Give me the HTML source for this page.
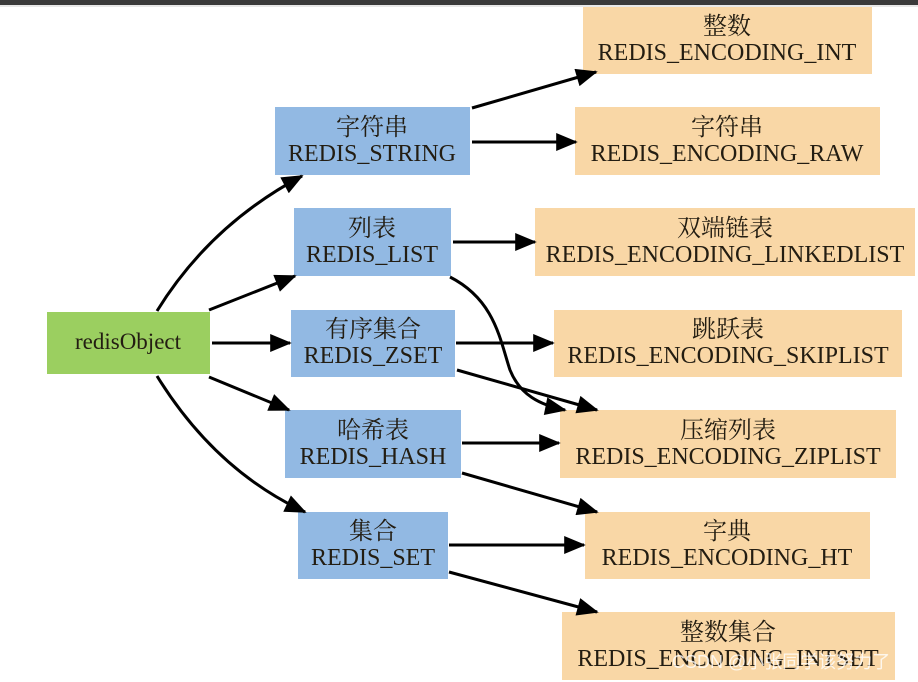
<!DOCTYPE html>
<html><head><meta charset="utf-8"><style>
html,body{margin:0;padding:0;background:#fff;}
svg{display:block}
text{font-family:"Liberation Serif","Noto Serif CJK SC","Noto Sans CJK SC",serif;fill:#231d12;}
</style></head><body>
<svg width="918" height="682" viewBox="0 0 918 682" xmlns="http://www.w3.org/2000/svg">
<defs>
<marker id="ar" viewBox="0 0 12 10" refX="11" refY="5" markerWidth="22" markerHeight="18" orient="auto" markerUnits="userSpaceOnUse"><path d="M0,0 L12,5 L0,10 z" fill="#000"/></marker>
</defs>
<rect x="0" y="0" width="918" height="5" fill="#3a3a3a"/>
<rect x="0" y="5" width="918" height="2" fill="#e8e8e8"/>
<g fill="#f9d7a6">
<rect x="583" y="7" width="289" height="67"/>
<rect x="575" y="107" width="305" height="68"/>
<rect x="535" y="208" width="380" height="68"/>
<rect x="554" y="310" width="348" height="67"/>
<rect x="560" y="410" width="336" height="68"/>
<rect x="585" y="512" width="285" height="67"/>
<rect x="562" y="612" width="333" height="68"/>
</g>
<g fill="#92b9e3">
<rect x="275" y="107" width="195" height="68"/>
<rect x="294" y="208" width="157" height="68"/>
<rect x="291" y="310" width="164" height="67"/>
<rect x="285" y="410" width="176" height="68"/>
<rect x="298" y="512" width="150" height="67"/>
</g>
<rect x="47" y="312" width="163" height="62" fill="#9bcf60"/>
<g stroke="#000" stroke-width="3" fill="none" marker-end="url(#ar)">
<path d="M157,311 Q210,225 302,176"/>
<path d="M209,310 L295,276"/>
<path d="M212,343 L290,343"/>
<path d="M209,377 L289,410"/>
<path d="M157,376 Q215,470 305,512"/>
<path d="M472,108 L596,72"/>
<path d="M472,142 L576,142"/>
<path d="M453,242 L535,242"/>
<path d="M456,343 L553,343"/>
<path d="M457,370 L597,410"/>
<path d="M450,277 C495,300 500,340 510,370 C520,395 540,405 565,410"/>
<path d="M462,443 L559,443"/>
<path d="M462,473 L597,512"/>
<path d="M449,545 L584,545"/>
<path d="M449,572 L597,612"/>
</g>
<g text-anchor="middle" font-size="24">
<text x="128" y="349" fill="#1f3a10" font-size="23">redisObject</text>
<text x="372" y="135">字符串</text><text x="372" y="161">REDIS_STRING</text>
<text x="372" y="236">列表</text><text x="372" y="262">REDIS_LIST</text>
<text x="373" y="337">有序集合</text><text x="373" y="363">REDIS_ZSET</text>
<text x="373" y="438">哈希表</text><text x="373" y="464">REDIS_HASH</text>
<text x="373" y="539">集合</text><text x="373" y="565">REDIS_SET</text>
<text x="727" y="34">整数</text><text x="727" y="60">REDIS_ENCODING_INT</text>
<text x="727" y="135">字符串</text><text x="727" y="161">REDIS_ENCODING_RAW</text>
<text x="725" y="236">双端链表</text><text x="725" y="262">REDIS_ENCODING_LINKEDLIST</text>
<text x="728" y="337">跳跃表</text><text x="728" y="363">REDIS_ENCODING_SKIPLIST</text>
<text x="728" y="438">压缩列表</text><text x="728" y="464">REDIS_ENCODING_ZIPLIST</text>
<text x="727" y="539">字典</text><text x="727" y="565">REDIS_ENCODING_HT</text>
<text x="728" y="640">整数集合</text><text x="728" y="666">REDIS_ENCODING_INTSET</text>
</g>
<text x="672" y="668" font-size="18" style="font-family:'Liberation Sans','Noto Sans CJK SC',sans-serif;fill:#fff;opacity:0.8">CSDN @小张同学该努力了</text>
</svg>
</body></html>
